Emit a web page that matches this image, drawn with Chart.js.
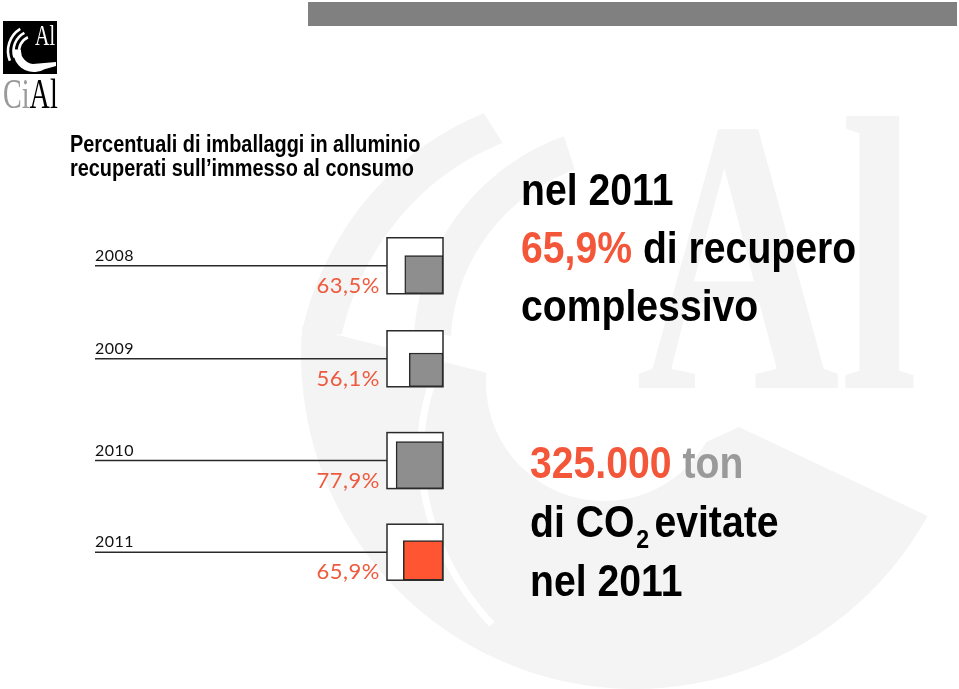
<!DOCTYPE html>
<html lang="it">
<head>
<meta charset="utf-8">
<title>CiAl - recupero imballaggi in alluminio</title>
<script src="https://cdn.jsdelivr.net/npm/chart.js@4.4.1/dist/chart.umd.min.js"></script>
<style>
  html, body { margin: 0; padding: 0; background: #fff; }
  #slide { position: relative; width: 959px; height: 689px; overflow: hidden; background: #fff; }
  #slide canvas { position: absolute; left: 0; top: 0; z-index: 2; }
  .abs { position: absolute; white-space: nowrap; transform-origin: 0 0; }
  .topbar { left: 308px; top: 2px; width: 649px; height: 24px; background: #808080; z-index: 1; }
  .logo-box { left: 3px; top: 21px; width: 54px; height: 53px; background: #000; z-index: 1; }
  .wm-al { left: 636px; top: 60px; z-index: 1; color: #f4f4f4;
           font: bold 392px/392px "Liberation Serif", "DejaVu Serif", serif; transform: scaleX(0.72); }
  .logo-al { left: 35px; top: 21px; z-index: 3; color: #fff;
             font: 29px/29px "Liberation Serif", serif; transform: scaleX(0.69); }
  .logo-word { left: 3px; top: 73px; z-index: 3; color: #000;
               font: 42px/42px "Liberation Serif", serif; transform: scaleX(0.67); }
  .logo-word .ci { color: #9a9a9a; }
  .title { left: 70px; top: 131.5px; z-index: 3; color: #000;
           font: bold 23px/24px "Liberation Sans", Arial, sans-serif; transform: scaleX(0.865); }
  .big { z-index: 3; color: #000; font: bold 44px "Liberation Sans", Arial, sans-serif; transform: scaleX(0.89); }
  .block1 { left: 521px; top: 160.8px; line-height: 58px; }
  .block2 { left: 530px; top: 433.3px; line-height: 59px; }
  .red { color: #f4563a; }
  .grey { color: #9a9a9a; }
  .sub { font-size: 26px; line-height: 0; position: relative; top: 11px; margin: 0 6px 0 2px; }
</style>
</head>
<body>
<div id="slide">
  <div class="abs topbar"></div>
  <div class="abs logo-box"></div>
  <div class="abs wm-al">Al</div>
  <canvas id="chart" width="959" height="689"></canvas>
  <div class="abs logo-al">Al</div>
  <div class="abs logo-word"><span class="ci">Ci</span>Al</div>
  <div class="abs title">Percentuali di imballaggi in alluminio<br>recuperati sull’immesso al consumo</div>
  <div class="abs big block1">nel <span id="lastYear1"></span><br><span class="red" id="lastPct"></span> di recupero<br>complessivo</div>
  <div class="abs big block2"><span class="red" id="co2"></span> <span class="grey">ton</span><br>di CO<span class="sub">2</span>evitate<br>nel <span id="lastYear2"></span></div>
</div>
<script>
const years = ['2008', '2009', '2010', '2011'];
const recoveryPct = [63.5, 56.1, 77.9, 65.9];
const co2AvoidedTon = 325000;

// stile
const BOX_PX = 56;     // lato del quadrato esterno in pixel
const X_MAX = 93;      // valore a cui corrisponde il lato del quadrato esterno
const LINE_X = 95;     // inizio delle linee orizzontali
const GREY = '#8e8e8e';
const RED = '#ff5533';
const WM = '#f4f4f4';
const highlightYear = years[years.length - 1];

function fmtPct(v) {
    return v.toFixed(1).replace('.', ',') + '%';
}
function fmtThousands(n) {
    return String(n).replace(/\B(?=(\d{3})+(?!\d))/g, '.');
}

// testi a destra presi dai dati
document.getElementById('lastYear1').textContent = highlightYear;
document.getElementById('lastYear2').textContent = highlightYear;
document.getElementById('lastPct').textContent = fmtPct(recoveryPct[recoveryPct.length - 1]);
document.getElementById('co2').textContent = fmtThousands(co2AvoidedTon);

// fascia curva (anche a spirale) per il marchio in filigrana
function band(ctx, cx, cy, a0, a1, rIn0, rIn1, rOut0, rOut1) {
    var n = 80;
    ctx.beginPath();
    for (var k = 0; k <= n; k++) {
        var t = k / n, a = (a0 + (a1 - a0) * t) * Math.PI / 180, r = rOut0 + (rOut1 - rOut0) * t;
        k ? ctx.lineTo(cx + r * Math.cos(a), cy + r * Math.sin(a)) : ctx.moveTo(cx + r * Math.cos(a), cy + r * Math.sin(a));
    }
    for (var k = n; k >= 0; k--) {
        var t = k / n, a = (a0 + (a1 - a0) * t) * Math.PI / 180, r = rIn0 + (rIn1 - rIn0) * t;
        ctx.lineTo(cx + r * Math.cos(a), cy + r * Math.sin(a));
    }
    ctx.closePath();
    ctx.fill();
}

function drawWatermark(ctx) {
    var rad = Math.PI / 180;
    ctx.save();
    ctx.fillStyle = WM;
    // corpo della C
    ctx.beginPath();
    ctx.arc(635, 355, 334, 28.8 * rad, 185 * rad, false);
    ctx.arc(604, 383, 118, 185 * rad, 30 * rad, true);
    ctx.lineTo(739, 427);
    ctx.closePath();
    ctx.fill();
    // archi in alto a sinistra
    band(ctx, 635, 355, 184, 238, 294, 250, 334, 285);
    band(ctx, 635, 355, 186, 252, 185, 195, 222, 230);
    // taglio bianco dentro il corpo
    ctx.strokeStyle = '#fff';
    ctx.lineWidth = 7;
    ctx.beginPath();
    for (var a = 172; a >= 118; a -= 2) {
        var r = 205 + (172 - a) / 54 * 100;
        var x = 635 + r * Math.cos(a * rad), y = 355 + r * Math.sin(a * rad);
        a === 172 ? ctx.moveTo(x, y) : ctx.lineTo(x, y);
    }
    ctx.stroke();
    ctx.restore();
}

function drawLogoMark(ctx) {
    var rad = Math.PI / 180;
    ctx.save();
    ctx.beginPath();
    ctx.rect(3, 21, 54, 53);
    ctx.clip();
    ctx.strokeStyle = '#fff';
    ctx.lineWidth = 2.6;
    [26, 20.5, 15].forEach(function(r, k) {
        ctx.beginPath();
        ctx.arc(34, 51, r, (158 + k * 4) * rad, (238 + k * 4) * rad);
        ctx.stroke();
    });
    // corpo della C con coda
    ctx.fillStyle = '#fff';
    ctx.beginPath();
    ctx.arc(34, 51, 13, 185 * rad, 95 * rad, true);
    ctx.lineTo(56, 62);
    ctx.lineTo(56, 66);
    ctx.arc(34, 51, 21, 60 * rad, 185 * rad, false);
    ctx.closePath();
    ctx.fill();
    ctx.restore();
}

var decor = {
    id: 'decor',
    beforeDraw: function(chart) {
        drawWatermark(chart.ctx);
        drawLogoMark(chart.ctx);
    },
    beforeDatasetsDraw: function(chart) {
        var ctx = chart.ctx, a = chart.chartArea;
        var side = a.right - a.left;
        years.forEach(function(yr, i) {
            var bar = chart.getDatasetMeta(i).data[i];
            var bottom = bar.y + bar.height / 2;
            var top = bottom - side;
            var midY = top + side / 2;
            ctx.save();
            // quadrato esterno
            ctx.fillStyle = '#fff';
            ctx.fillRect(a.left, top, side, side);
            ctx.strokeStyle = '#2a2a2a';
            ctx.lineWidth = 1.5;
            ctx.strokeRect(a.left, top, side, side);
            // linea dell'anno
            ctx.beginPath();
            ctx.moveTo(LINE_X, midY);
            ctx.lineTo(a.left, midY);
            ctx.stroke();
            // anno
            ctx.fillStyle = '#111';
            ctx.font = '16px Lato, sans-serif';
            ctx.letterSpacing = '0.5px';
            ctx.textAlign = 'left';
            ctx.textBaseline = 'alphabetic';
            ctx.fillText(yr, LINE_X, midY - 5);
            // percentuale
            ctx.fillStyle = '#ee5a3e';
            ctx.font = '22px Lato, sans-serif';
            ctx.letterSpacing = '0.5px';
            ctx.textAlign = 'right';
            ctx.fillText(fmtPct(recoveryPct[i]), a.left - 7, bottom - 1);
            ctx.restore();
        });
    }
};

var canvas = document.getElementById('chart');
new Chart(canvas.getContext('2d'), {
    type: 'bar',
    data: {
        labels: years,
        datasets: years.map(function(yr, i) {
            return {
                label: yr,
                data: years.map(function(_, j) { return j === i ? recoveryPct[i] : null; }),
                backgroundColor: yr === highlightYear ? RED : GREY,
                borderColor: '#2a2a2a',
                borderWidth: 1.5,
                borderSkipped: false,
                grouped: false,
                barThickness: recoveryPct[i] * BOX_PX / X_MAX
            };
        })
    },
    options: {
        indexAxis: 'y',
        responsive: false,
        animation: false,
        devicePixelRatio: 1,
        layout: { padding: { left: 387, right: 516, top: 227, bottom: 81 } },
        scales: {
            x: { type: 'linear', min: 0, max: X_MAX, reverse: true, display: false },
            y: { type: 'category', display: false, offset: true }
        },
        plugins: { legend: { display: false }, tooltip: { enabled: false } }
    },
    plugins: [decor]
});
</script>
</body>
</html>
